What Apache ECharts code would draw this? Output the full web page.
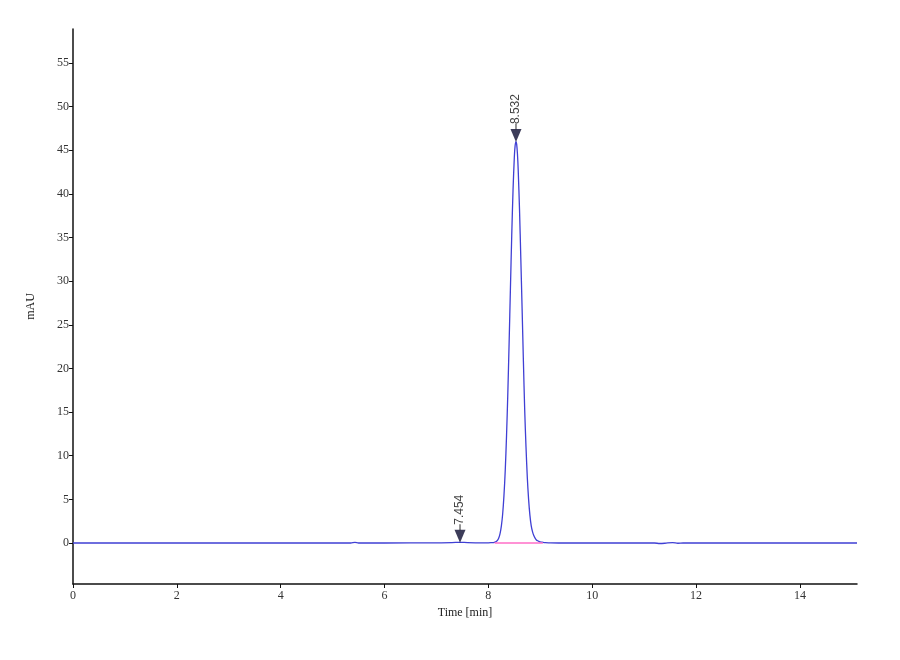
<!DOCTYPE html>
<html>
<head>
<meta charset="utf-8">
<script src="https://cdn.jsdelivr.net/npm/echarts@6/dist/echarts.min.js"></script>
<style>html,body{margin:0;padding:0;background:#fff}#c{width:900px;height:660px}</style>
</head>
<body>
<div id="c"></div>
<script>
// Chromatogram trace (time in min, signal in mAU)
const times = [0, 1, 2, 3, 4, 5, 5.35, 5.43, 5.5, 6, 7, 7.3, 7.45, 7.6, 7.9, 8.0, 8.05, 8.1, 8.15, 8.175, 8.2, 8.225, 8.25, 8.275, 8.3, 8.325, 8.35, 8.375, 8.4, 8.425, 8.45, 8.475, 8.5, 8.515, 8.532, 8.545, 8.56, 8.575, 8.6, 8.625, 8.65, 8.675, 8.7, 8.725, 8.75, 8.775, 8.8, 8.825, 8.85, 8.875, 8.9, 8.925, 8.95, 8.975, 9.0, 9.05, 9.1, 9.2, 9.5, 10, 11, 11.2, 11.3, 11.4, 11.55, 11.65, 11.75, 12, 13, 14, 15.1];
const signal = [0, 0, 0, 0, 0, 0, 0, 0.06, 0, 0, 0.02, 0.04, 0.08, 0.04, 0.02, 0.02, 0.03, 0.05, 0.15, 0.29, 0.57, 1.08, 1.93, 3.3, 5.4, 8.3, 12.3, 17.2, 23.0, 29.2, 35.2, 40.4, 44.2, 45.5, 46.0, 45.7, 44.6, 42.7, 38.2, 32.6, 26.8, 20.8, 15.2, 11.0, 7.5, 5.0, 3.2, 2.0, 1.3, 0.85, 0.55, 0.35, 0.25, 0.18, 0.12, 0.08, 0.05, 0.02, 0, 0, 0, 0, -0.06, -0.03, 0.05, -0.03, 0, 0, 0, 0, 0];
// Integration baseline (pink)
const baseTimes = [8.12, 9.05];
const baseValues = [0, 0];
// Peak annotations
const peakNames = ['7.454', '8.532'];
const peakTimes = [7.454, 8.532];
const peakValues = [0.08, 46.0];
// Tick labels
const xTicks = [0, 2, 4, 6, 8, 10, 12, 14];
const yTicks = [0, 5, 10, 15, 20, 25, 30, 35, 40, 45, 50, 55];

const trace = times.map((t, i) => [t, signal[i]]);
const base = baseTimes.map((t, i) => [t, baseValues[i]]);
const peaks = peakTimes.map((t, i) => ({ name: peakNames[i], value: [t, peakValues[i]] }));

const font = '"Liberation Serif", "DejaVu Serif", serif';
const chart = echarts.init(document.getElementById('c'), null, { renderer: 'canvas' });
chart.setOption({
  animation: false,
  backgroundColor: '#ffffff',
  grid: { left: 73, right: 43, top: 29, bottom: 76, containLabel: false },
  xAxis: {
    type: 'value', min: 0, max: 15.1,
    name: 'Time [min]', nameLocation: 'middle', nameGap: 22,
    nameTextStyle: { fontFamily: font, fontSize: 12, color: '#222' },
    axisLine: { onZero: false, lineStyle: { color: '#111', width: 1.5 } },
    axisTick: { length: 4, lineStyle: { color: '#111' }, customValues: xTicks },
    axisLabel: { fontFamily: font, fontSize: 12, color: '#333', margin: 6, customValues: xTicks },
    splitLine: { show: false }
  },
  yAxis: {
    type: 'value', min: -4.7, max: 58.9,
    name: 'mAU', nameLocation: 'middle', nameGap: 36, nameRotate: 90,
    nameTextStyle: { fontFamily: font, fontSize: 12, color: '#222' },
    axisLine: { onZero: false, lineStyle: { color: '#111', width: 1.5 } },
    axisTick: { length: 4, lineStyle: { color: '#111' }, customValues: yTicks },
    axisLabel: { fontFamily: font, fontSize: 12, color: '#333', margin: 4, customValues: yTicks },
    splitLine: { show: false }
  },
  series: [
    {
      type: 'line', data: trace, smooth: 0.3, showSymbol: false,
      lineStyle: { color: '#3f3fd4', width: 1.3 }, z: 2
    },
    {
      type: 'line', data: base, showSymbol: false,
      lineStyle: { color: '#ff6ec7', width: 1.5 }, z: 3
    },
    {
      type: 'scatter', data: peaks,
      symbol: 'triangle', symbolRotate: 180, symbolSize: [11, 13], symbolOffset: [0, -6],
      itemStyle: { color: '#0b0b30' }, z: 5,
      label: {
        show: true, position: 'top', distance: 5, rotate: 90,
        align: 'left', verticalAlign: 'middle',
        formatter: p => p.name,
        fontFamily: '"Liberation Sans", "DejaVu Sans", sans-serif', fontSize: 12, color: '#111'
      }
    },
    {
      type: 'scatter', data: peaks, silent: true,
      symbol: 'rect', symbolSize: [1.2, 6], symbolOffset: [0, -15],
      itemStyle: { color: '#222' }, z: 4
    }
  ]
});
</script>
</body>
</html>
